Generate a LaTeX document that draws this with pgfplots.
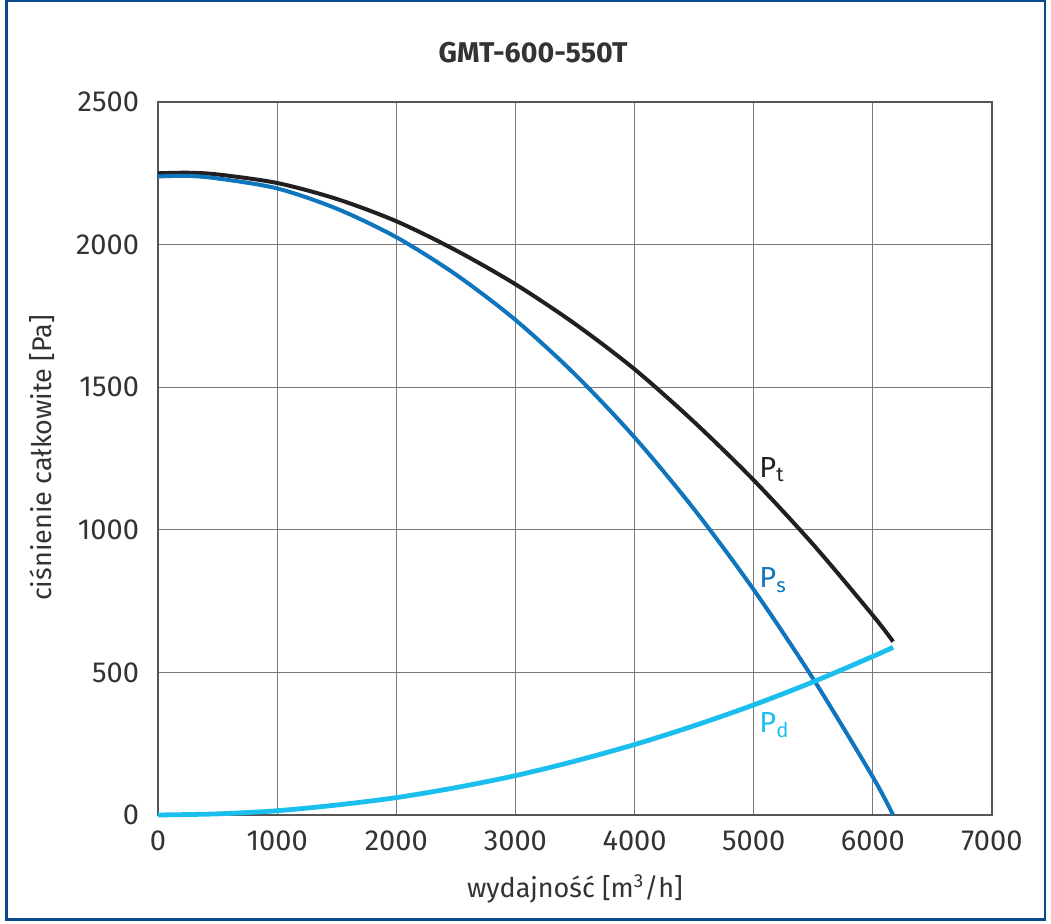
\documentclass[border=0pt]{standalone}
\usepackage{pgfplots}
\pgfplotsset{compat=1.18}
\usepackage{fontspec}
\setmainfont{Fira Sans}
\newfontfamily\titlefont{Fira Sans}
\definecolor{framecol}{HTML}{0B4A8A}
\definecolor{ptcol}{HTML}{231F20}
\definecolor{pscol}{HTML}{0F75BC}
\definecolor{pdcol}{HTML}{1BBFEE}
\definecolor{gridcol}{HTML}{7A7A7A}
\definecolor{axcol}{HTML}{555555}
\definecolor{txtcol}{HTML}{333333}
\begin{document}
\begin{tikzpicture}
\coordinate (O) at (79pt,54pt);
\useasboundingbox (0pt,0pt) rectangle (525.5pt,461.5pt);
\fill[white] (0pt,0pt) rectangle (525.5pt,461.5pt);
\draw[framecol, line width=1.1pt] (3.2pt,1.8pt) rectangle (522.4pt,460.8pt);
\begin{axis}[
  at={(O)}, anchor=south west,
  scale only axis, width=417pt, height=356.5pt,
  xmin=0, xmax=7000, ymin=0, ymax=2500,
  xtick={0,1000,...,7000}, ytick={0,500,...,2500},
  /pgf/number format/assume math mode=true,
  /pgf/number format/1000 sep={},
  major tick length=0pt,
  grid=major,
  major grid style={gridcol, line width=0.55pt},
  axis line style={axcol, line width=0.9pt},
  tick label style={font=\fontsize{14.5}{16}\selectfont, text=txtcol},
  yticklabel style={xshift=-6pt},
  xticklabel style={yshift=-4.5pt},
  clip=false,
]
\addplot[ptcol, line width=2pt, smooth] coordinates {
(0,2250) (250,2252) (500,2246) (1000,2216) (1500,2160) (2000,2082) (2500,1980) (3000,1861) (3500,1722) (4000,1563) (4500,1378) (5000,1174) (5500,948) (6000,700) (6170,608)};
\addplot[pscol, line width=2pt, smooth] coordinates {
(0,2239) (250,2241) (500,2232) (1000,2197) (1500,2126) (2000,2026) (2500,1895) (3000,1736) (3500,1545) (4000,1324) (4500,1072) (5000,790) (5500,477) (6000,133) (6170,0)};
\addplot[pdcol, line width=2.4pt, smooth] coordinates {
(0,0) (500,4) (1000,15) (1500,35) (2000,61) (2500,96) (3000,138) (3500,189) (4000,247) (4500,313) (5000,386) (5500,467) (6000,556) (6170,588)};
\node[anchor=base west, inner sep=0pt, text=ptcol, font=\fontsize{14.5}{16}\selectfont] at (axis cs:5045,1185) {P\textsubscript{t}};
\node[anchor=base west, inner sep=0pt, text=pscol, font=\fontsize{14.5}{16}\selectfont] at (axis cs:5045,797) {P\textsubscript{s}};
\node[anchor=base west, inner sep=0pt, text=pdcol, font=\fontsize{14.5}{16}\selectfont] at (axis cs:5045,289) {P\textsubscript{d}};
\end{axis}
\node[text=txtcol, font=\titlefont\bfseries\fontsize{14.3}{16}\selectfont] at (266.5pt,435pt) {GMT-600-550T};
\node[rotate=90, text=txtcol, font=\fontsize{13.5}{15}\selectfont] at (21pt,232.5pt) {ciśnienie całkowite [Pa]};
\node[text=txtcol, font=\fontsize{13.5}{15}\selectfont] at (287.5pt,17pt) {wydajność [m\textsuperscript{3}/h]};
\end{tikzpicture}
\end{document}
